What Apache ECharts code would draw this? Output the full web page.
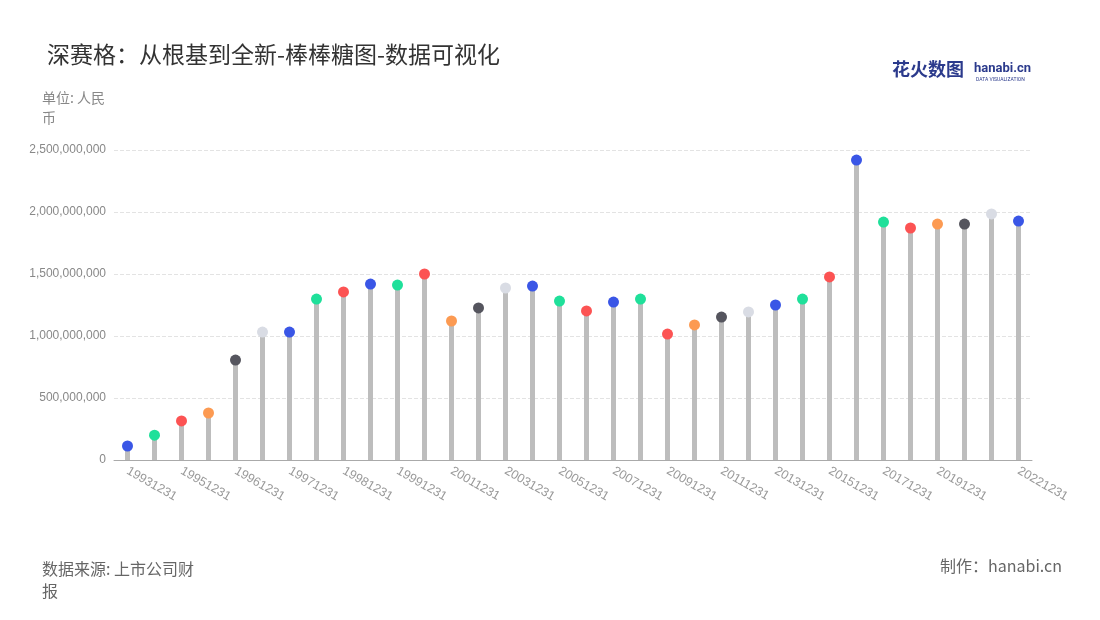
<!DOCTYPE html>
<html><head><meta charset="utf-8">
<script src="https://cdn.jsdelivr.net/npm/echarts@6/dist/echarts.min.js"></script>
<style>html,body{margin:0;padding:0;background:#fff}#c{width:1100px;height:620px}</style>
</head><body><div id="c"></div>
<script>
var categories = ['19931231','19941231','19951231','19960630','19961231','19970630','19971231','19980630','19981231','19990630','19991231','20001231','20011231','20021231','20031231','20041231','20051231','20061231','20071231','20081231','20091231','20101231','20111231','20121231','20131231','20141231','20151231','20161231','20171231','20181231','20191231','20201231','20211231','20221231'];
var values = [113e6,200e6,315e6,379e6,806e6,1032e6,1032e6,1298e6,1355e6,1419e6,1411e6,1500e6,1121e6,1226e6,1387e6,1403e6,1282e6,1202e6,1274e6,1298e6,1016e6,1089e6,1153e6,1194e6,1250e6,1298e6,1476e6,2419e6,1919e6,1871e6,1903e6,1903e6,1984e6,1927e6];
var B='#3a56e6',G='#1fe09a',R='#fc5353',O='#fc9a52',D='#55555e',L='#d9dce4';
var dotColors = [B,G,R,O,D,L,B,G,R,B,G,R,O,D,L,B,G,R,B,G,R,O,D,L,B,G,R,B,G,R,O,D,L,B];
var chart = echarts.init(document.getElementById('c'));
chart.setOption({
  animation:false,
  title:{text:'深赛格：从根基到全新-棒棒糖图-数据可视化',left:42,top:38,textStyle:{fontSize:23,fontWeight:'normal',color:'#333',fontFamily:'Noto Sans CJK SC'}},
  graphic:[
    {type:'text',left:42,top:88,style:{text:'单位: 人民\n币',fill:'#888',font:'14px "Noto Sans CJK SC"',lineHeight:20}},
    {type:'text',left:42,top:558,style:{text:'数据来源: 上市公司财\n报',fill:'#666',font:'16px "Noto Sans CJK SC"',lineHeight:22}},
    {type:'text',right:38,top:558,style:{text:'制作：hanabi.cn',fill:'#666',font:'16px "Noto Sans CJK SC"'}},
    {type:'text',left:892,top:60,style:{text:'花火数图',fill:'#2b3a8c',font:'bold 18px "Noto Sans CJK SC"'}},
    {type:'text',left:974,top:62,style:{text:'hanabi.cn',fill:'#2b3a8c',font:'bold 13px Roboto'}},
    {type:'text',left:976,top:77,style:{text:'DATA VISUALIZATION',fill:'#2b3a8c',font:'5px Roboto'}}
  ],
  grid:{left:114,right:68,top:150,bottom:160},
  xAxis:{type:'category',data:categories,axisTick:{show:false},
    axisLine:{lineStyle:{color:'#aaa'}},
    axisLabel:{interval:function(i){return (i%2===0 && i!==32) || i===33;},rotate:-30,color:'#999',fontSize:12.5,align:'left',margin:10}},
  yAxis:{type:'value',min:0,max:2500000000,interval:500000000,
    axisLabel:{color:'#888',fontSize:12,formatter:function(v){return v.toLocaleString('en-US');}},
    splitLine:{lineStyle:{type:'dashed',color:'#e3e3e3'}},axisLine:{show:false},axisTick:{show:false}},
  series:[
    {type:'bar',data:values,barWidth:5,itemStyle:{color:'#bdbdbd'},z:1},
    {type:'scatter',data:values.map(function(v,i){return {value:v,itemStyle:{color:dotColors[i],opacity:1}};}),symbolSize:11,z:2}
  ]
});
</script></body></html>
